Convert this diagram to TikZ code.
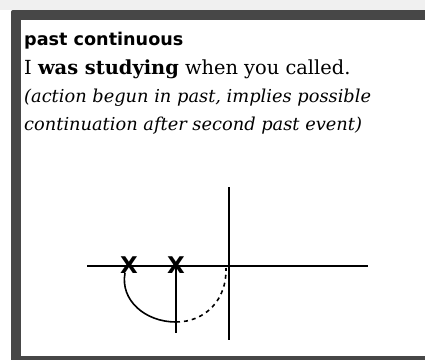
\documentclass[tikz,border=0pt]{standalone}
\usepackage{fontspec}
\setmainfont{DejaVu Serif}
\setsansfont{DejaVu Sans}
\usetikzlibrary{positioning}

\begin{document}
\begin{tikzpicture}[
    x=1pt, y=-1pt,
    txt/.style={anchor=base west, inner sep=0pt, font=\fontsize{19.4}{22}\selectfont},
    note/.style={txt, font=\itshape\fontsize{17.8}{22}\selectfont},
    line/.style={line width=1.6pt, black},
    cross/.style={font=\sffamily\bfseries\fontsize{23}{23}\selectfont, inner sep=0pt}
]
\useasboundingbox (0,0) rectangle (425,359);
\fill[gray!12] (0,0) rectangle (425,10);
\fill[black!72, rounded corners=2pt] (11,10) rectangle (440,370);
\fill[white] (21,20) rectangle (425,356);

% text
\node[txt, font=\sffamily\bfseries\fontsize{17.6}{22}\selectfont] (title) at (24,45) {past continuous};
\node[txt] (example) at (24,74) {I \textbf{was studying} when you called.};
\node[note] (note1) at (24,102) {(action begun in past, implies possible};
\node[note] (note2) at (24,130) {continuation after second past event)};

% time line
\coordinate (tl) at (87,266);
\coordinate (tr) at (368,266);
\coordinate (nowt) at (229,187);
\coordinate (nowb) at (229,340);
\draw[line] (tl) -- (tr);
\draw[line] (nowt) -- (nowb);

\node[cross] (x1) at (129,265) {X};
\node[cross] (x2) at (176,265) {X};
\coordinate (x2b) at (176,333);
\draw[line] (x2.center) -- (x2b);

% action
\coordinate (arcs) at (125,273);
\coordinate (arcm) at (176,322);
\coordinate (arce) at (226,268);
\draw[line] (arcs) .. controls (120,300) and (145,322) .. (arcm);
\draw[line, dashed, dash pattern=on 4pt off 4pt] (arcm) .. controls (205,322) and (227,300) .. (arce);
\end{tikzpicture}
\end{document}
